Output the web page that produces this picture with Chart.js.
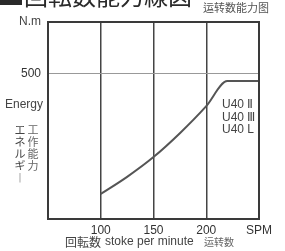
<!DOCTYPE html>
<html>
<head>
<meta charset="utf-8">
<script src="https://cdn.jsdelivr.net/npm/chart.js@4"></script>
<style>
  html, body { margin: 0; padding: 0; background: #fff; }
  #wrap { width: 285px; height: 251px; }
</style>
</head>
<body>
<div id="wrap"><canvas id="energy" width="285" height="251"></canvas></div>
<script>
const spm = [100, 125, 150, 175, 200, 220, 250]
const energy = [86, 145, 213, 295, 388, 474, 474]
const xTicks = [100, 150, 200, 250]
const xTickLabels = ['100', '150', '200', 'SPM']
const yTicks = [500]
const yMax = 677
const models = ['U40 Ⅱ', 'U40 Ⅲ', 'U40 L']

const jp = '"Noto Sans CJK JP", sans-serif'
const latin = '"Liberation Sans", Arial, sans-serif'

const extras = {
  id: 'extras',
  beforeDraw(chart) {
    const c = chart.ctx
    c.save()
    c.fillStyle = '#fff'
    c.fillRect(0, 0, chart.width, chart.height)
    c.restore()
  },
  afterDraw(chart) {
    const c = chart.ctx
    const a = chart.chartArea
    const x = chart.scales.x
    const y = chart.scales.y
    c.save()
    // frame
    c.strokeStyle = '#3a3a3a'
    c.lineWidth = 2
    c.strokeRect(a.left, a.top, a.right - a.left, a.bottom - a.top)

    // title, cut off at the top
    c.fillStyle = '#2a2a2a'
    c.fillRect(0, -14, 22, 19)
    c.font = '24px ' + jp
    c.textBaseline = 'alphabetic'
    c.textAlign = 'left'
    c.fillText('回転数能力線図', 24, 5)
    c.fillStyle = '#555'
    c.font = '11px ' + jp
    c.textBaseline = 'middle'
    c.fillText('运转数能力图', 203, 8)

    // y axis words
    c.fillStyle = '#444'
    c.textAlign = 'right'
    c.font = '12px ' + latin
    c.fillText('N.m', 41, a.top)
    c.fillText('Energy', 43, 105)
    c.font = '11px ' + jp
    c.textAlign = 'center'
    const col1 = ['エ', 'ネ', 'ル', 'ギ', '︱']
    const col2 = ['工', '作', '能', '力']
    col1.forEach((ch, i) => c.fillText(ch, 20, 130 + i * 12))
    c.fillStyle = '#666'
    col2.forEach((ch, i) => c.fillText(ch, 33, 130 + i * 12))

    // x axis title
    c.fillStyle = '#444'
    c.textAlign = 'left'
    c.font = '12px ' + jp
    c.fillText('回転数', 65, 242)
    c.font = '12px ' + latin
    c.fillText('stoke per minute', 105, 242)
    c.fillStyle = '#666'
    c.font = '10px ' + jp
    c.fillText('运转数', 204, 242)

    // model labels
    c.fillStyle = '#444'
    c.font = '12px ' + latin
    models.forEach((m, i) => c.fillText(m, 222, 105 + i * 12.5))
    c.restore()
  }
}

new Chart('energy', {
  type: 'line',
  data: {
    datasets: [{
      data: spm.map((v, i) => ({ x: v, y: energy[i] })),
      borderColor: '#555',
      borderWidth: 2,
      pointRadius: 0,
      cubicInterpolationMode: 'monotone',
      fill: false
    }]
  },
  plugins: [extras],
  options: {
    responsive: false,
    animation: false,
    layout: { padding: { left: 0, right: 26, top: 22, bottom: 0 } },
    plugins: { legend: { display: false }, tooltip: { enabled: false } },
    scales: {
      x: {
        type: 'linear',
        min: 50,
        max: 250,
        afterBuildTicks: s => { s.ticks = xTicks.map(v => ({ value: v })) },
        afterFit: s => { s.height = 32 },
        grid: { color: '#444', lineWidth: 1.5, drawTicks: false },
        border: { display: false },
        ticks: {
          padding: 4,
          color: '#333',
          font: { family: latin, size: 12 },
          callback: v => xTickLabels[xTicks.indexOf(v)]
        }
      },
      y: {
        min: 0,
        max: yMax,
        afterBuildTicks: s => { s.ticks = yTicks.map(v => ({ value: v })) },
        afterFit: s => { s.width = 48 },
        grid: { color: '#999', lineWidth: 1, drawTicks: false },
        border: { display: false },
        ticks: {
          padding: 7,
          color: '#333',
          font: { family: latin, size: 12 }
        }
      }
    }
  }
})
</script>
</body>
</html>
